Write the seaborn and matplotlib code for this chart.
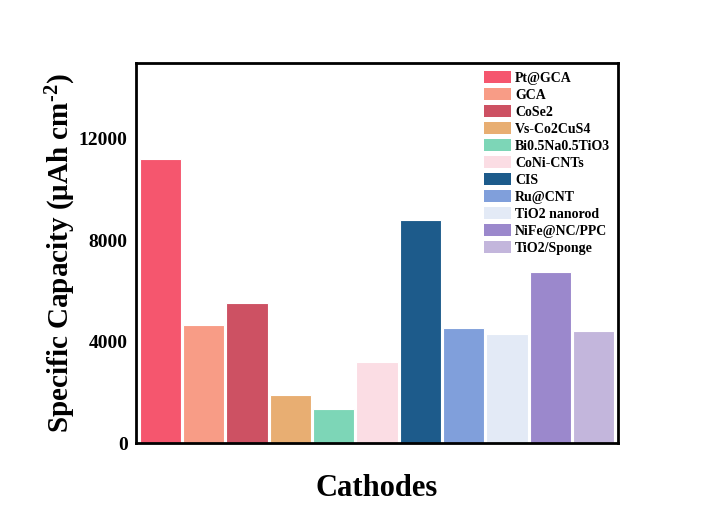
import matplotlib
matplotlib.use("Agg")
import matplotlib.pyplot as plt
import seaborn as sns
import pandas as pd
from matplotlib.patches import Patch

cathodes = ["Pt@GCA", "GCA", "CoSe2", "Vs-Co2CuS4", "Bi0.5Na0.5TiO3", "CoNi-CNTs",
            "CIS", "Ru@CNT", "TiO2 nanorod", "NiFe@NC/PPC", "TiO2/Sponge"]
capacity = [11200, 4670, 5540, 1900, 1350, 3180, 8800, 4550, 4310, 6750, 4420]
colors = ["#F5566E", "#F89C86", "#CD5163", "#E8AE72", "#7DD6B7", "#FBDDE4",
          "#1D5B8B", "#809FDB", "#E3EAF6", "#9B88CC", "#C3B6DC"]
yticks = [0, 4000, 8000, 12000]

sns.set_theme(style="white")
plt.rcParams["font.family"] = ["Liberation Serif", "DejaVu Serif"]
plt.rcParams["font.weight"] = "bold"
plt.rcParams["text.color"] = "black"
plt.rcParams["axes.labelcolor"] = "black"
plt.rcParams["ytick.color"] = "black"
plt.rcParams["mathtext.fontset"] = "custom"
plt.rcParams["mathtext.rm"] = "Liberation Serif:bold"
plt.rcParams["mathtext.bf"] = "Liberation Serif:bold"
plt.rcParams["mathtext.default"] = "bf"

df = pd.DataFrame({"Cathode": cathodes, "Capacity": capacity})

fig = plt.figure(figsize=(7.03, 5.29), dpi=100)
ax = fig.add_axes([136 / 703, 1 - 443 / 529, (618 - 136) / 703, (443 - 63) / 529])

sns.barplot(data=df, x="Cathode", y="Capacity", hue="Cathode",
            palette=colors, saturation=1, dodge=False, width=0.95, legend=False,
            ax=ax, edgecolor="white", linewidth=0.8)

ax.set_xlim(-0.56, len(cathodes) - 0.44)
ax.set_ylim(0, 15000)
ax.set_yticks(yticks)
ax.set_yticklabels([str(t) for t in yticks], fontsize=14, fontweight="bold")
ax.set_xticks([])
ax.tick_params(axis="y", length=0, pad=6)
ax.set_xlabel("Cathodes", fontsize=22, fontweight="bold", labelpad=22)
ax.set_ylabel(r"Specific Capacity (μAh cm$^{\text{-2}}$)", fontsize=21,
              fontweight="bold", labelpad=0.5)
for s in ax.spines.values():
    s.set_color("black")
    s.set_linewidth(2.0)

handles = [Patch(facecolor=c, edgecolor="none") for c in colors]
ax.legend(handles, cathodes, loc="upper right", bbox_to_anchor=(1.0, 1.0),
          frameon=False, handlelength=1.95, handleheight=1.0,
          labelspacing=0.22, handletextpad=0.3, borderaxespad=0.15,
          prop={"weight": "bold", "size": 10, "family": "Liberation Serif"})

fig.savefig("out.png", dpi=100, facecolor="white")
